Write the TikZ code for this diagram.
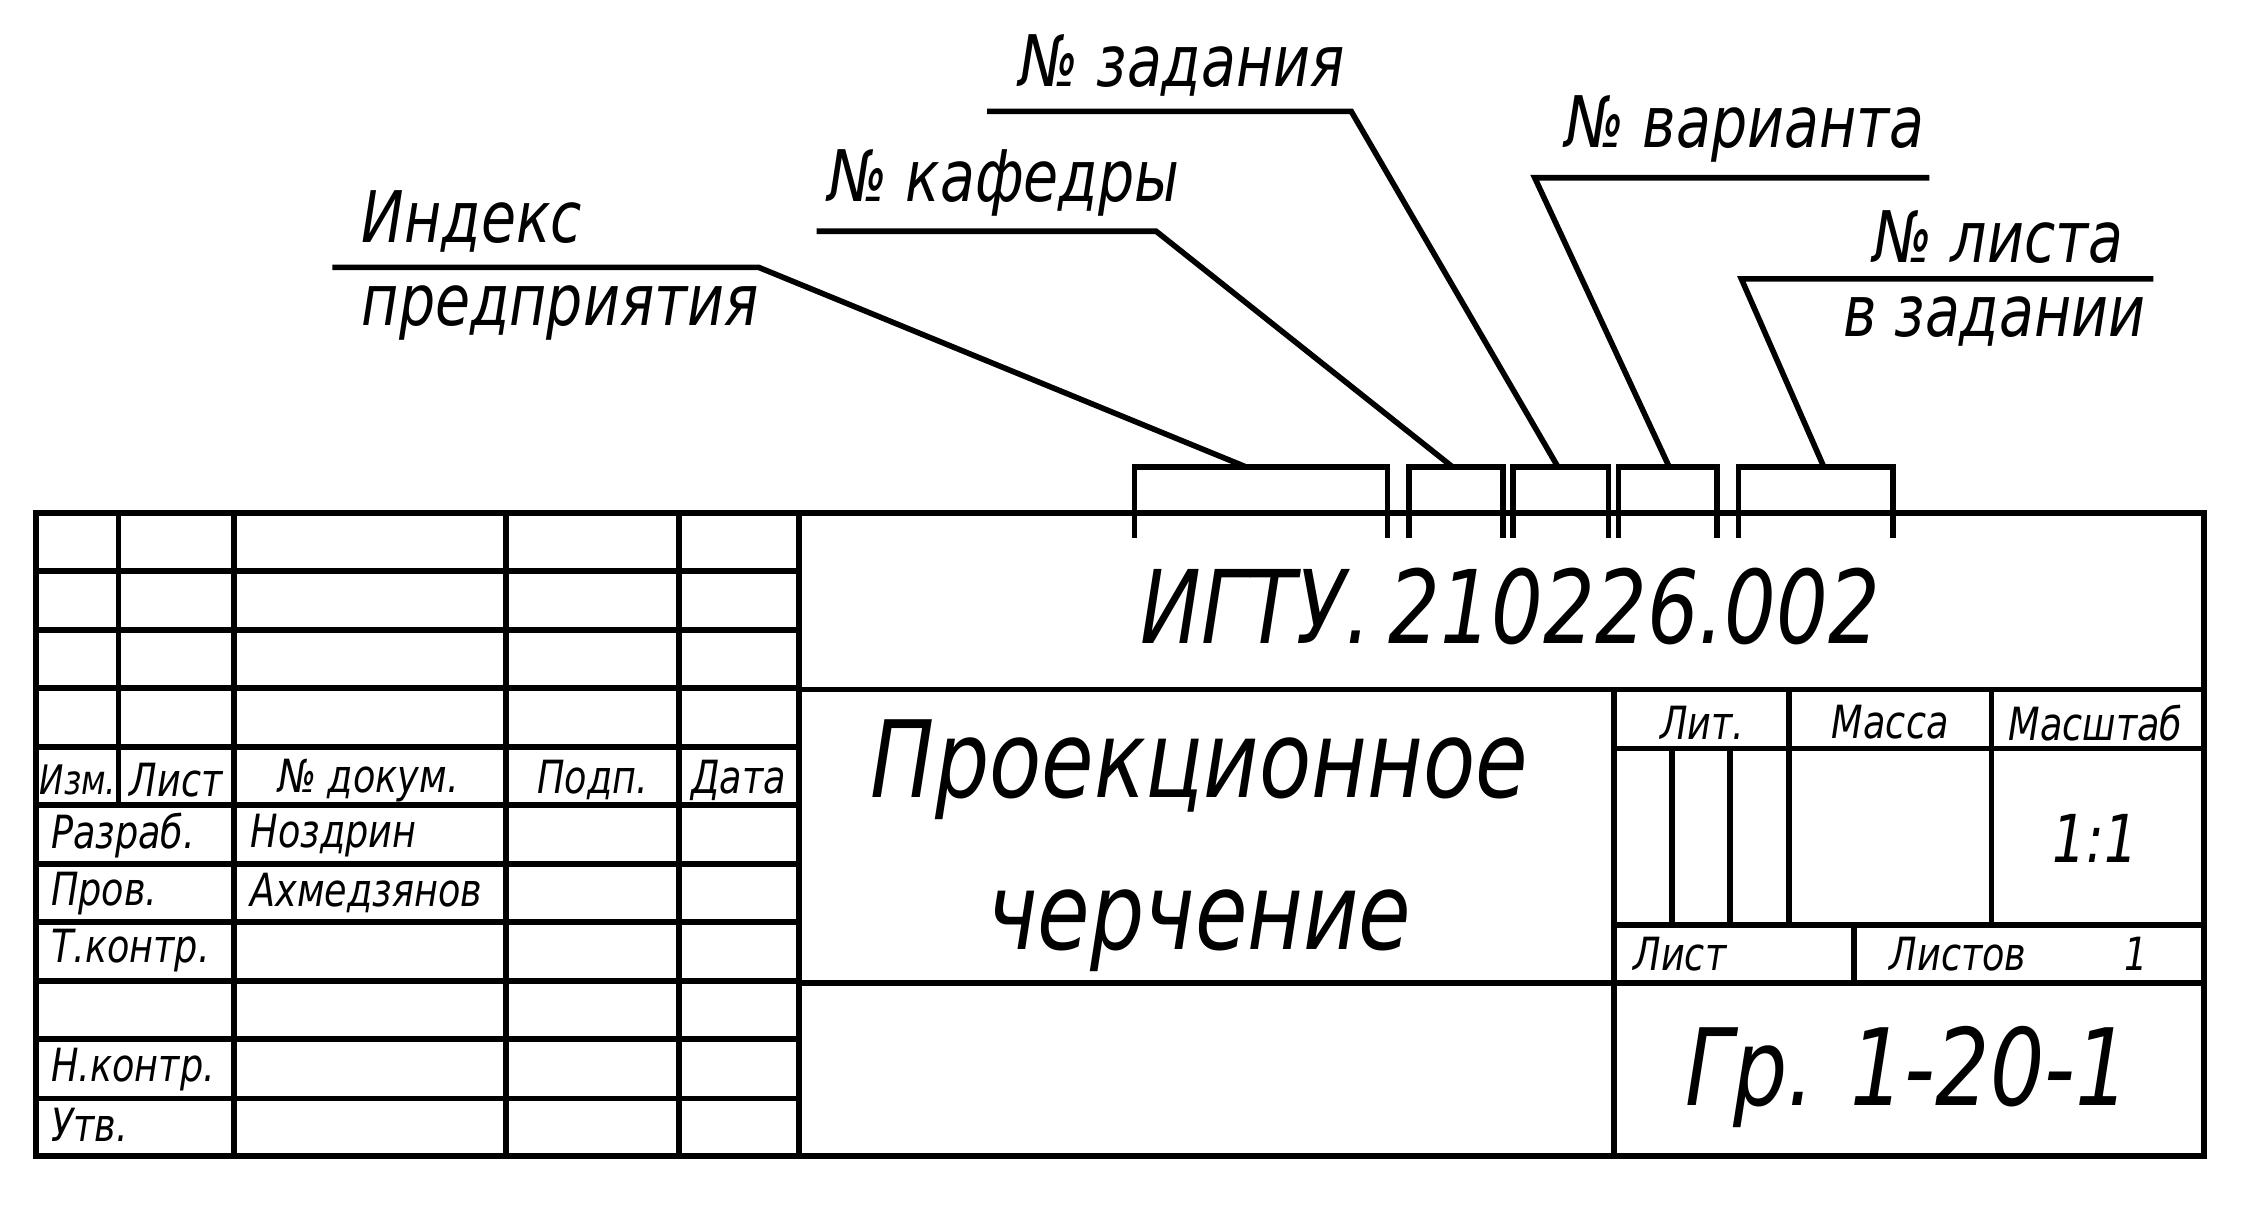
\documentclass[tikz,border=0pt]{standalone}
\usepackage{fontspec}
\setmainfont{DejaVu Sans}[FakeStretch=0.8]
\usetikzlibrary{positioning}

\begin{document}
\begin{tikzpicture}[x=0.01cm,y=-0.01cm,line width=1.1pt,
    lbl/.style={font=\itshape\fontsize{9}{10}\selectfont,inner sep=1pt},
    tag/.style={font=\itshape\fontsize{14}{16}\selectfont,inner sep=1pt}]
  \useasboundingbox (0,0) rectangle (1568,835);

  % frame
  \draw (25,355) rectangle (1525,800);
  \foreach \y in {395,436,476,517,557,598,638,679,719,760}
    \draw (25,\y) -- (553,\y);
  \draw (82,355) -- (82,557);
  \foreach \x in {162,350,470,553}
    \draw (\x,355) -- (\x,800);
  \draw (553,477) -- (1525,477);
  \draw (553,680) -- (1525,680);
  \draw (1117,477) -- (1117,800);
  \draw (1117,518) -- (1525,518);
  \draw (1117,640) -- (1525,640);
  \foreach \x in {1157,1197}
    \draw (\x,518) -- (\x,640);
  \foreach \x in {1238,1378}
    \draw (\x,477) -- (\x,640);
  \draw (1283,640) -- (1283,680);

  % texts in the frame
  \node[font=\itshape\fontsize{20}{24}\selectfont] (code) at (1045,420) {ИГТУ.\,210226.002};
  \node[font=\itshape\fontsize{21}{30}\selectfont,align=center] (title) at (830,585) {Проекционное\\черчение};
  \node[font=\itshape\fontsize{21}{24}\selectfont] (grp) at (1320,745) {Гр. 1-20-1};
  \node[lbl,font=\itshape\fontsize{8}{10}\selectfont] (izm) at (54,540) {Изм.};
  \foreach \x/\y/\t in {122/540/Лист, 255/540/№ докум., 410/540/Подп., 511/540/Дата,
    1178/500/Лит., 1308/500/Масса, 1450/500/Масштаб, 1355/660/Листов, 1478/660/1}
    \node[lbl] at (\x,\y) {\t};
  \node[lbl,font=\itshape\fontsize{13}{14}\selectfont] (scale) at (1450,580) {1:1};
  \foreach \y/\t in {578/Разраб., 618/Пров., 658/Т.контр., 740/Н.контр., 778/Утв.}
    \node[lbl,anchor=west] at (30,\y) {\t};
  \node[lbl,anchor=west] (list) at (1125,660) {Лист};
  \node[lbl,anchor=west] (nozd) at (168,578) {Ноздрин};
  \node[lbl,anchor=west] (akhm) at (168,618) {Ахмедзянов};

  % brackets
  \foreach \a/\b/\n in {785/960/b1, 975/1040/b2, 1047/1113/b3, 1120/1188/b4, 1203/1310/b5} {
    \draw (\a,372) -- (\a,323) -- (\b,323) -- (\b,372);
    \coordinate (\n) at ({(\a+\b)/2},323);
  }

  % leaders
  \node[tag,anchor=south west] (ind) at (245,180) {Индекс};
  \node[tag,anchor=north west] (pred) at (245,192) {предприятия};
  \draw (230,185) -- (525,185) -- (862,323);
  \node[tag,anchor=south west] (kaf) at (568,155) {№ кафедры};
  \draw (565,160) -- (800,160) -- (1005,323);
  \node[tag,anchor=south west] (zad) at (700,72) {№ задания};
  \draw (683,77) -- (935,77) -- (1078,323);
  \node[tag,anchor=south west] (var) at (1078,118) {№ варианта};
  \draw (1335,123) -- (1062,123) -- (1155,323);
  \node[tag,anchor=south east] (lst) at (1475,188) {№ листа};
  \node[tag,anchor=north east] (vzad) at (1490,200) {в задании};
  \draw (1490,193) -- (1205,193) -- (1262,323);
\end{tikzpicture}
\end{document}
